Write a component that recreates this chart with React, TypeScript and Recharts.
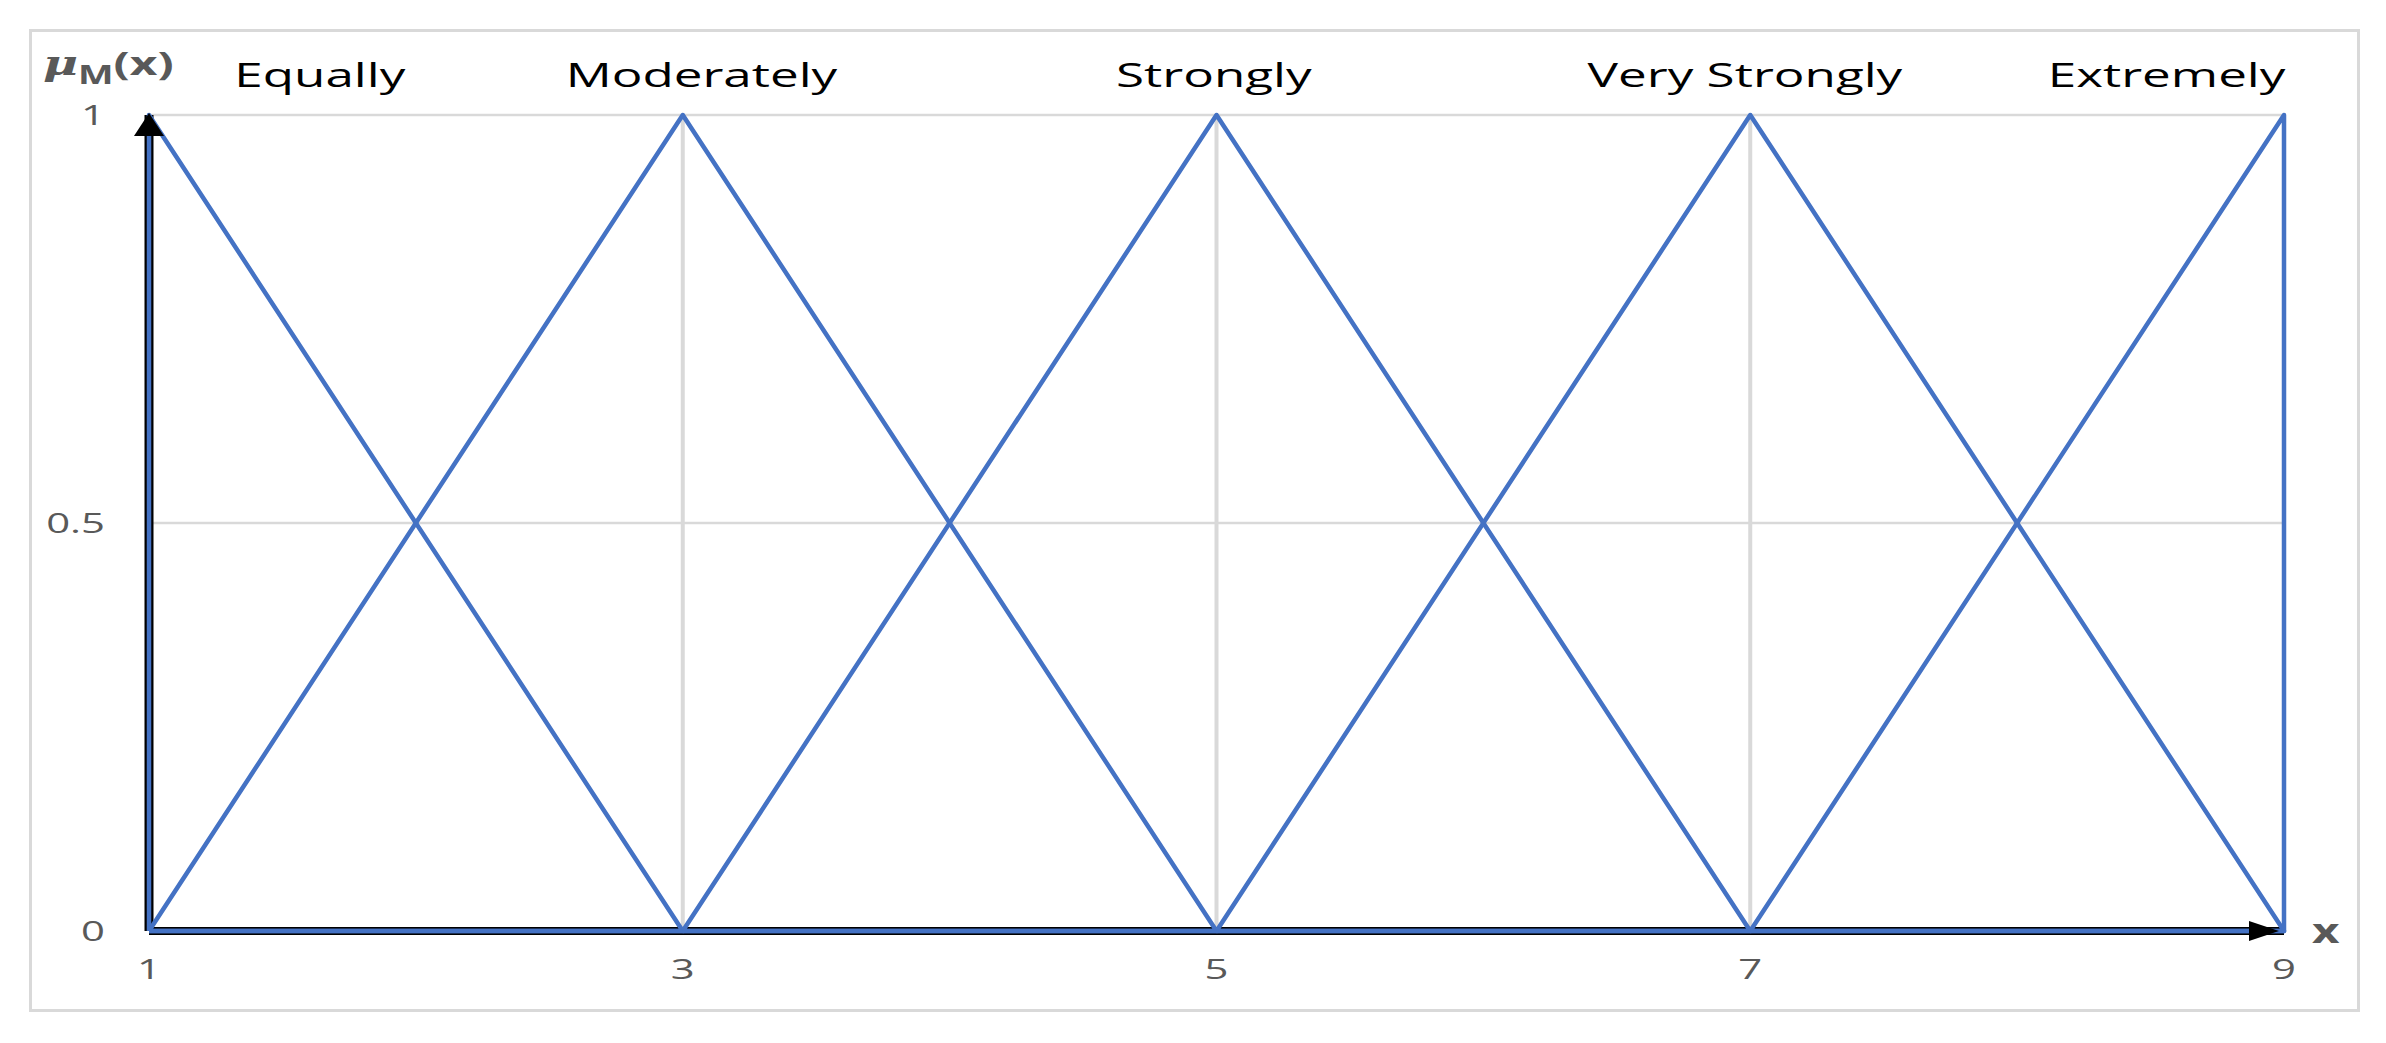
import React from 'react';
import { ComposedChart, Line, XAxis, YAxis, CartesianGrid, ReferenceDot } from 'recharts';

// fuzzy triangular sets, each closed back along the base
const equally = [
  { x: 1, y: 0 },
  { x: 1, y: 1 },
  { x: 3, y: 0 },
  { x: 1, y: 0 },
];
const moderately = [
  { x: 1, y: 0 },
  { x: 3, y: 1 },
  { x: 5, y: 0 },
  { x: 1, y: 0 },
];
const strongly = [
  { x: 3, y: 0 },
  { x: 5, y: 1 },
  { x: 7, y: 0 },
  { x: 3, y: 0 },
];
const veryStrongly = [
  { x: 5, y: 0 },
  { x: 7, y: 1 },
  { x: 9, y: 0 },
  { x: 5, y: 0 },
];
const extremely = [
  { x: 7, y: 0 },
  { x: 9, y: 1 },
  { x: 9, y: 0 },
  { x: 7, y: 0 },
];

const seriesList = [equally, moderately, strongly, veryStrongly, extremely];

// axis arrows
const yArrow = [
  { x: 1, y: 0 },
  { x: 1, y: 1 },
];
const xArrow = [
  { x: 1, y: 0 },
  { x: 9, y: 0 },
];

const setNames = ['Equally', 'Moderately', 'Strongly', 'Very Strongly', 'Extremely'];
const setNameX = [1.64, 3.07, 4.99, 6.98, 8.56];

const xTicks = [1, 3, 5, 7, 9];
const yTicks = [0, 0.5, 1];

const BLUE = '#4472C4';
const GRID = '#d9d9d9';
const TICK_GRAY = '#595959';
const FONT = '"Open Sans", "DejaVu Sans", sans-serif';
const STRETCH = 1.55;

function XTick(props: any) {
  const { x, y, payload } = props;
  return (
    <text
      transform={`translate(${x},${y}) scale(${STRETCH},1)`}
      textAnchor="middle"
      dy="0.71em"
      fontSize={27}
      fontFamily={FONT}
      fill={TICK_GRAY}
    >
      {payload.value}
    </text>
  );
}

function YTick(props: any) {
  const { x, y, payload } = props;
  return (
    <text
      transform={`translate(${x},${y}) scale(${STRETCH},1)`}
      textAnchor="end"
      dy="0.36em"
      fontSize={27}
      fontFamily={FONT}
      fill={TICK_GRAY}
    >
      {payload.value}
    </text>
  );
}

export default function App() {
  return (
    <div style={{ position: 'absolute', left: 0, top: 0, width: 2386, height: 1043, background: '#fff' }}>
      {/* outer chart frame */}
      <div
        style={{
          position: 'absolute',
          left: 29,
          top: 29,
          width: 2331,
          height: 983,
          border: `3px solid ${GRID}`,
          boxSizing: 'border-box',
        }}
      />

      <div style={{ position: 'absolute', left: 0, top: 0 }}>
        <ComposedChart width={2386} height={1043} margin={{ top: 115, right: 102, bottom: 52, left: 89 }}>
          <CartesianGrid vertical={false} stroke={GRID} strokeWidth={2.5} />
          <CartesianGrid horizontal={false} stroke={GRID} strokeWidth={4} />
          <XAxis
            type="number"
            dataKey="x"
            domain={[1, 9]}
            ticks={xTicks}
            height={60}
            axisLine={false}
            tickLine={false}
            tickSize={0}
            tickMargin={29}
            tick={<XTick />}
            allowDuplicatedCategory={false}
          />
          <YAxis
            type="number"
            dataKey="y"
            domain={[0, 1]}
            ticks={yTicks}
            width={60}
            axisLine={false}
            tickLine={false}
            tickSize={0}
            tickMargin={44}
            tick={<YTick />}
          />

          <Line data={yArrow} dataKey="y" type="linear" stroke="#000" strokeWidth={9} dot={false} activeDot={false} isAnimationActive={false} />
          <Line data={xArrow} dataKey="y" type="linear" stroke="#000" strokeWidth={8} dot={false} activeDot={false} isAnimationActive={false} />

          {seriesList.map((s, i) => (
            <Line
              key={setNames[i]}
              name={setNames[i]}
              data={s}
              dataKey="y"
              type="linear"
              stroke={BLUE}
              strokeWidth={4.5}
              strokeLinejoin="round"
              dot={false}
              activeDot={false}
              isAnimationActive={false}
            />
          ))}

          {/* arrow heads */}
          <ReferenceDot
            x={1}
            y={1}
            r={0}
            shape={(p: any) => (
              <path d={`M${p.cx},${p.cy - 2} L${p.cx - 15},${p.cy + 21} L${p.cx + 15},${p.cy + 21} Z`} fill="#000" />
            )}
          />
          <ReferenceDot
            x={9}
            y={0}
            r={0}
            shape={(p: any) => (
              <path d={`M${p.cx - 5},${p.cy} L${p.cx - 35},${p.cy - 10} L${p.cx - 35},${p.cy + 10} Z`} fill="#000" />
            )}
          />

          {setNames.map((name, i) => (
            <ReferenceDot
              key={name}
              x={setNameX[i]}
              y={1}
              r={0}
              shape={(p: any) => (
                <text
                  transform={`translate(${p.cx},${p.cy - 28}) scale(${STRETCH},1)`}
                  textAnchor="middle"
                  fontSize={33}
                  fontFamily={FONT}
                  fill="#000"
                >
                  {name}
                </text>
              )}
            />
          ))}

          {/* y axis title: mu_M(x) */}
          <ReferenceDot
            x={1}
            y={1}
            r={0}
            shape={(p: any) => (
              <text
                transform={`translate(${p.cx - 106},${p.cy - 40}) scale(1.45,1)`}
                fontSize={33}
                fontWeight="bold"
                fontFamily={FONT}
                fill={TICK_GRAY}
              >
                <tspan fontStyle="italic" fontFamily="'DejaVu Serif', serif">μ</tspan>
                <tspan fontSize={26} dy={9}>M</tspan>
                <tspan dy={-9}>(x)</tspan>
              </text>
            )}
          />

          {/* x axis title */}
          <ReferenceDot
            x={9}
            y={0}
            r={0}
            shape={(p: any) => (
              <text
                transform={`translate(${p.cx + 28},${p.cy + 12}) scale(1.4,1)`}
                fontSize={34}
                fontWeight="bold"
                fontFamily={FONT}
                fill={TICK_GRAY}
              >
                x
              </text>
            )}
          />
        </ComposedChart>
      </div>
    </div>
  );
}
